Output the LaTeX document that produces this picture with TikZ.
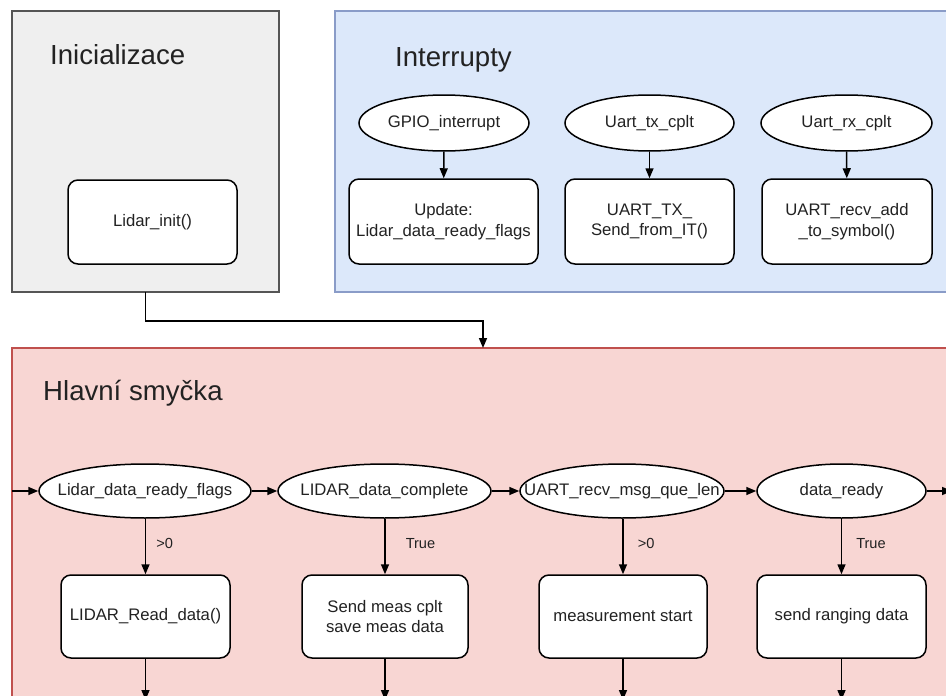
\documentclass[tikz,border=0pt]{standalone}
\usepackage{fontspec}
\setmainfont{Liberation Sans}
\usetikzlibrary{arrows.meta,shapes.geometric}

\definecolor{initfill}{HTML}{EFEFEF}
\definecolor{initline}{HTML}{555555}
\definecolor{irqfill}{HTML}{DCE8FA}
\definecolor{irqline}{HTML}{8A9CC8}
\definecolor{mainfill}{HTML}{F8D6D3}
\definecolor{mainline}{HTML}{C0504D}
\definecolor{txt}{HTML}{222222}

% ellipse text is boxed at zero width so the node size comes from minimum width/height
\newcommand{\ctxt}[1]{\makebox[0pt]{#1}}

\tikzset{
  container/.style={draw, line width=1.2pt, inner sep=0pt, outer sep=0pt},
  title/.style={anchor=base west, inner sep=0pt, text=txt,
    font=\fontsize{27.6}{32}\selectfont},
  proc/.style={draw, fill=white, rounded corners=10pt, line width=1.5pt,
    minimum height=84pt, align=center, text=txt, inner sep=2pt,
    font=\fontsize{16.7}{20.5}\selectfont},
  cond/.style={draw, fill=white, ellipse, line width=1.5pt, inner sep=0pt,
    text=txt, font=\fontsize{16.7}{20}\selectfont},
  arr/.style={line width=1.5pt, -{Triangle[length=10pt,width=8pt]}},
  lbl/.style={text=txt, font=\fontsize{14.6}{17}\selectfont, anchor=west, inner sep=0pt},
}

\begin{document}
\begin{tikzpicture}[x=1pt,y=-1pt]
\useasboundingbox (0,0) rectangle (946,696);
\clip (0,0) rectangle (946,696);
\fill[white] (0,0) rectangle (946,696);

% containers
\node[container, draw=initline, fill=initfill, minimum width=267pt, minimum height=281pt]
  (initbox) at (145.5,151.5) {};
\node[container, draw=irqline, fill=irqfill, minimum width=665pt, minimum height=281pt]
  (irqbox) at (667.5,151.5) {};
\node[container, draw=mainline, fill=mainfill, minimum width=988pt, minimum height=412pt]
  (mainbox) at (506,554) {};

\node[title] (tinit) at (50,64) {Inicializace};
\node[title] (tirq) at (395,66) {Interrupty};
\node[title] (tmain) at (43,400) {Hlavní smyčka};

% initialisation
\node[proc, minimum width=169pt] (linit) at (152.5,222) {Lidar\_init()};

% interrupt handlers
\node[cond, minimum width=170pt, minimum height=56pt] (gpio) at (444,123) {\ctxt{GPIO\_interrupt}};
\node[cond, minimum width=169pt, minimum height=56pt] (txc) at (649.5,123) {\ctxt{Uart\_tx\_cplt}};
\node[cond, minimum width=171pt, minimum height=56pt] (rxc) at (846.5,123) {\ctxt{Uart\_rx\_cplt}};

\node[proc, minimum width=189pt, minimum height=85pt] (upd) at (443.5,221.5) {Update:\\Lidar\_data\_ready\_flags};
\node[proc, minimum width=169pt, minimum height=85pt] (txs) at (649.5,221.5) {UART\_TX\_\\Send\_from\_IT()};
\node[proc, minimum width=170pt, minimum height=85pt] (rxa) at (847,221.5) {UART\_recv\_add\\\_to\_symbol()};

\draw[arr] (gpio) -- (upd);
\draw[arr] (txc) -- (txs);
\draw[arr] (rxc) -- (rxa);

% init -> main loop
\coordinate (bend) at (483,321);
\draw[arr] (initbox.south) |- (bend) -- (bend |- mainbox.north);

% main loop conditions
\node[cond, minimum width=212pt, minimum height=54pt] (c1) at (145,491) {\ctxt{Lidar\_data\_ready\_flags}};
\node[cond, minimum width=213pt, minimum height=54pt] (c2) at (384.5,491) {\ctxt{LIDAR\_data\_complete}};
\node[cond, minimum width=204pt, minimum height=54pt] (c3) at (622,491) {\ctxt{UART\_recv\_msg\_que\_len}};
\node[cond, minimum width=169pt, minimum height=54pt] (c4) at (841.5,491) {\ctxt{data\_ready}};

\node[proc, minimum width=169pt, minimum height=83pt] (a1) at (145.5,616.5) {LIDAR\_Read\_data()};
\node[proc, minimum width=166pt, minimum height=83pt] (a2) at (385,616.5) {Send meas cplt\\save meas data};
\node[proc, minimum width=168pt, minimum height=83pt] (a3) at (623,616.5) {measurement start};
\node[proc, minimum width=169pt, minimum height=83pt] (a4) at (841.5,616.5) {send ranging data};

\coordinate (loopin) at (mainbox.west |- c1);
\coordinate (loopout) at (952,491);
\draw[arr] (loopin) -- (c1);
\draw[arr] (c1) -- (c2);
\draw[arr] (c2) -- (c3);
\draw[arr] (c3) -- (c4);
\draw[arr] (c4) -- (loopout);

\draw[arr] (c1.south -| a1) -- node[lbl, pos=0.45, xshift=10pt] {>0} (a1);
\draw[arr] (c2.south -| a2) -- node[lbl, pos=0.45, xshift=20pt] {True} (a2);
\draw[arr] (c3.south -| a3) -- node[lbl, pos=0.45, xshift=14pt] {>0} (a3);
\draw[arr] (c4.south -| a4) -- node[lbl, pos=0.45, xshift=14pt] {True} (a4);

\coordinate (d1) at (145.5,700);
\coordinate (d2) at (385,700);
\coordinate (d3) at (623,700);
\coordinate (d4) at (841.5,700);
\draw[arr] (a1) -- (d1);
\draw[arr] (a2) -- (d2);
\draw[arr] (a3) -- (d3);
\draw[arr] (a4) -- (d4);
\end{tikzpicture}
\end{document}
